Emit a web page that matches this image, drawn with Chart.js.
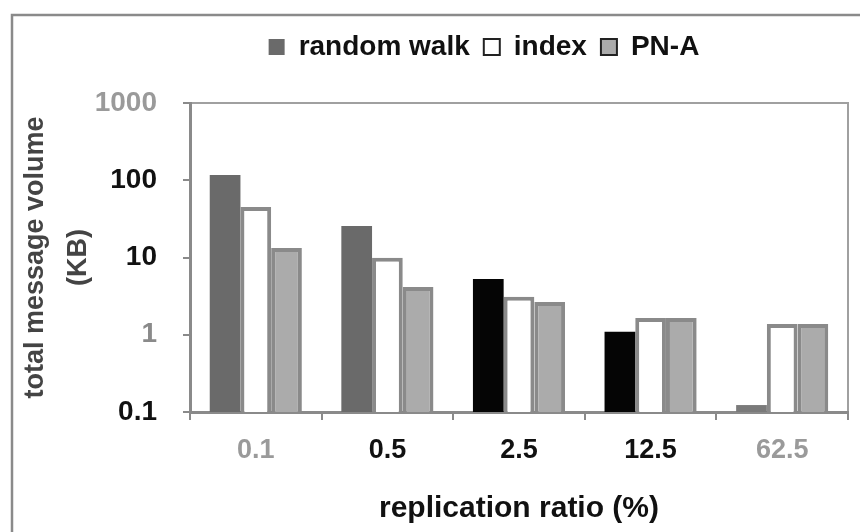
<!DOCTYPE html>
<html>
<head>
<meta charset="utf-8">
<script src="https://cdn.jsdelivr.net/npm/chart.js@4"></script>
<style>
  html, body { margin: 0; padding: 0; background: #fff; }
  #chart { display: block; }
</style>
</head>
<body>
<canvas id="chart" width="860" height="532"></canvas>
<script>
// ─── DATA ──────────────────────────────────────────────────
const categories = ['0.1', '0.5', '2.5', '12.5', '62.5'];
const randomWalk = [117, 25.6, 5.25, 1.09, 0.123];
const indexVals  = [45, 9.9, 3.1, 1.65, 1.38];
const pnaVals    = [13.3, 4.15, 2.65, 1.65, 1.38];
const yTicks     = [0.1, 1, 10, 100, 1000];

// scan makes some marks/labels look darker or lighter
const RW_COLOURS    = ['#6a6a6a', '#6a6a6a', '#050505', '#050505', '#7a7a7a'];
const XTICK_COLOURS = ['#9a9a9a', '#111', '#111', '#111', '#9a9a9a'];
const YTICK_COLOURS = ['#111', '#8a8a8a', '#111', '#111', '#9a9a9a'];

const FONT   = "'Liberation Sans', Arial, sans-serif";
const NARROW = "'Liberation Sans Narrow', 'Liberation Sans', Arial, sans-serif";
const GREY   = '#8a8a8a';

// ─── PLUGINS ───────────────────────────────────────────────
const frame = {
  id: 'frame',
  afterLayout(chart) {
    // legend sits higher and a bit left of centre in the original
    const lg = chart.legend;
    lg.left   += 60;
    lg.right  += 60;
    lg.top    -= 32;
    lg.bottom -= 32;
  },
  beforeDraw(chart) {
    const { ctx, chartArea: a } = chart;
    ctx.save();
    ctx.strokeStyle = GREY;
    ctx.lineWidth = 2.5;
    ctx.strokeRect(12, 15, 900, 600);
    ctx.lineWidth = 2;
    ctx.strokeStyle = '#a0a0a0';
    ctx.beginPath();
    ctx.moveTo(a.left, a.top);
    ctx.lineTo(a.right, a.top);
    ctx.lineTo(a.right, a.bottom);
    ctx.stroke();
    ctx.restore();
  },
};

// ─── CHART ─────────────────────────────────────────────────
new Chart(document.getElementById('chart'), {
  type: 'bar',
  data: {
    labels: categories,
    datasets: [
      {
        label: 'random walk',
        data: randomWalk,
        backgroundColor: c => c.type === 'data' ? RW_COLOURS[c.dataIndex] : '#777',
        borderWidth: 0,
      },
      { label: 'index', data: indexVals, backgroundColor: '#fff', borderColor: GREY, borderWidth: 4 },
      { label: 'PN-A',  data: pnaVals,   backgroundColor: '#ababab', borderColor: GREY, borderWidth: 4 },
    ],
  },
  options: {
    responsive: false,
    animation: false,
    layout: { padding: { top: 19, left: 0, right: 12, bottom: 0 } },
    datasets: { bar: { categoryPercentage: 0.7, barPercentage: 1.0 } },
    plugins: {
      tooltip: { enabled: false },
      legend: {
        position: 'top',
        labels: {
          color: '#111',
          font: { family: FONT, size: 28, weight: 'bold' },
          boxWidth: 16,
          boxHeight: 16,
          padding: 14,
          generateLabels: chart => Chart.defaults.plugins.legend.labels.generateLabels(chart)
            .map((l, i) => i === 0 ? l : { ...l, strokeStyle: '#222', lineWidth: 2 }),
        },
      },
    },
    scales: {
      x: {
        grid: { drawOnChartArea: false, tickLength: 8, color: GREY, lineWidth: 2 },
        border: { color: GREY, width: 3 },
        ticks: {
          color: c => XTICK_COLOURS[c.index],
          font: { family: FONT, size: 27, weight: 'bold' },
          padding: 14,
        },
        title: {
          display: true,
          text: 'replication ratio (%)',
          color: '#111',
          font: { family: FONT, size: 30, weight: 'bold' },
          padding: { top: 0, bottom: 5 },
        },
        afterFit: s => { s.height = 120; },
      },
      y: {
        type: 'logarithmic',
        min: 0.1,
        max: 1000,
        grid: { drawOnChartArea: false, tickLength: 7, color: GREY, lineWidth: 2 },
        border: { color: GREY, width: 3 },
        afterBuildTicks: s => { s.ticks = yTicks.map(v => ({ value: v })); },
        ticks: {
          color: c => YTICK_COLOURS[c.index],
          font: { family: NARROW, size: 28, weight: 'bold' },
          padding: 26,
          callback: v => String(v),
        },
        title: {
          display: true,
          text: ['total message volume', '(KB)'],
          color: '#444',
          font: { family: FONT, size: 27, weight: 'bold', lineHeight: 1.6 },
          padding: { top: 14, bottom: 0 },
        },
        afterFit: s => { s.width = 190; s.paddingTop = 103; },
      },
    },
  },
  plugins: [frame],
});
</script>
</body>
</html>
